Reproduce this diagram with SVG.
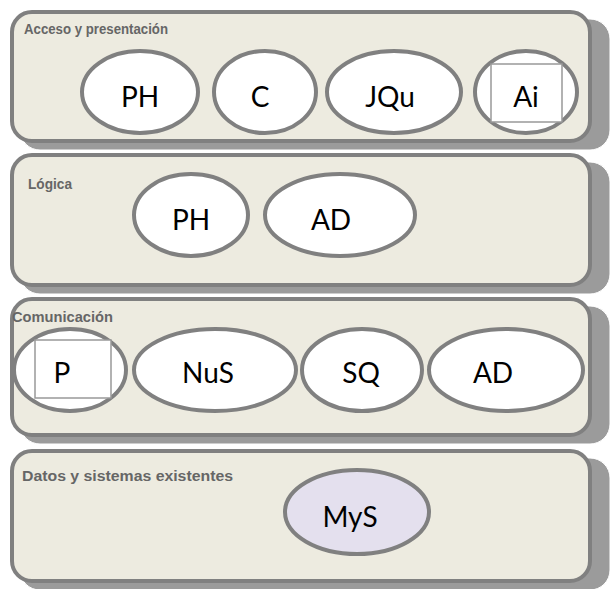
<svg xmlns="http://www.w3.org/2000/svg" width="612" height="589" viewBox="0 0 612 589">
<style>
.shadow{fill:#9b9b9b;stroke:#ffffff;stroke-width:1}
.panel{fill:#EDEBE0;stroke:#808080;stroke-width:4}
.ttl{font-family:"Liberation Sans",Arial,sans-serif;font-weight:bold;font-size:14px;fill:#666666}
.ell{fill:#ffffff;stroke:#808080;stroke-width:4}
.sq{fill:#ffffff;stroke:#999999;stroke-width:1.5}
.lbl{font-family:Lato,"Liberation Sans",sans-serif;font-size:28px;fill:#000000;text-anchor:middle}
</style>
<rect width="612" height="589" fill="#ffffff"/>
<g id="panel-acceso">
<rect class="shadow" x="20" y="19" width="590" height="131" rx="20"/>
<rect class="panel" x="12" y="12" width="578" height="129" rx="20"/>
<text class="ttl" x="24" y="34" textLength="144" lengthAdjust="spacingAndGlyphs">Acceso y presentación</text>
</g>
<g id="panel-logica">
<rect class="shadow" x="20" y="162" width="590" height="132" rx="20"/>
<rect class="panel" x="12" y="155" width="578" height="130" rx="20"/>
<text class="ttl" x="28" y="189" textLength="44" lengthAdjust="spacingAndGlyphs">Lógica</text>
</g>
<g id="panel-comunicacion">
<rect class="shadow" x="20" y="306" width="590" height="138" rx="20"/>
<rect class="panel" x="12" y="299" width="578" height="136" rx="20"/>
<text class="ttl" x="12" y="322" textLength="101" lengthAdjust="spacingAndGlyphs">Comunicación</text>
</g>
<g id="panel-datos">
<rect class="shadow" x="20" y="458" width="590" height="132" rx="20"/>
<rect class="panel" x="12" y="451" width="578" height="130" rx="20"/>
<text class="ttl" x="22" y="481" textLength="211" lengthAdjust="spacingAndGlyphs">Datos y sistemas existentes</text>
</g>
<g id="n-ph1"><ellipse class="ell" cx="140" cy="92" rx="58" ry="41"/><text class="lbl" x="140" y="107">PH</text></g>
<g id="n-c"><ellipse class="ell" cx="265" cy="92" rx="51" ry="41"/><text class="lbl" x="260" y="107">C</text></g>
<g id="n-jqu"><ellipse class="ell" cx="394" cy="92" rx="67" ry="41"/><text class="lbl" x="390" y="107">JQu</text></g>
<g id="n-ai"><ellipse class="ell" cx="526" cy="92" rx="51" ry="41"/><rect class="sq" x="491" y="64" width="71" height="58"/><text class="lbl" x="526" y="107">Ai</text></g>
<g id="n-ph2"><ellipse class="ell" cx="191" cy="215" rx="57" ry="41"/><text class="lbl" x="191" y="230">PH</text></g>
<g id="n-ad1"><ellipse class="ell" cx="340" cy="215" rx="75" ry="41"/><text class="lbl" x="331" y="230">AD</text></g>
<g id="n-p"><ellipse class="ell" cx="70" cy="370" rx="56" ry="41"/><rect class="sq" x="35" y="340" width="76" height="58"/><text class="lbl" x="62" y="383">P</text></g>
<g id="n-nus"><ellipse class="ell" cx="215" cy="370" rx="81" ry="41"/><text class="lbl" x="208" y="383">NuS</text></g>
<g id="n-sq"><ellipse class="ell" cx="362" cy="370" rx="60" ry="41"/><text class="lbl" x="361" y="383">SQ</text></g>
<g id="n-ad2"><ellipse class="ell" cx="506" cy="370" rx="77" ry="41"/><text class="lbl" x="493" y="383">AD</text></g>
<g id="n-mys"><ellipse class="ell" cx="357" cy="512" rx="72" ry="42" style="fill:#E4E0EE"/><text class="lbl" x="350" y="527">MyS</text></g>
<g id="connectors"></g>
</svg>
